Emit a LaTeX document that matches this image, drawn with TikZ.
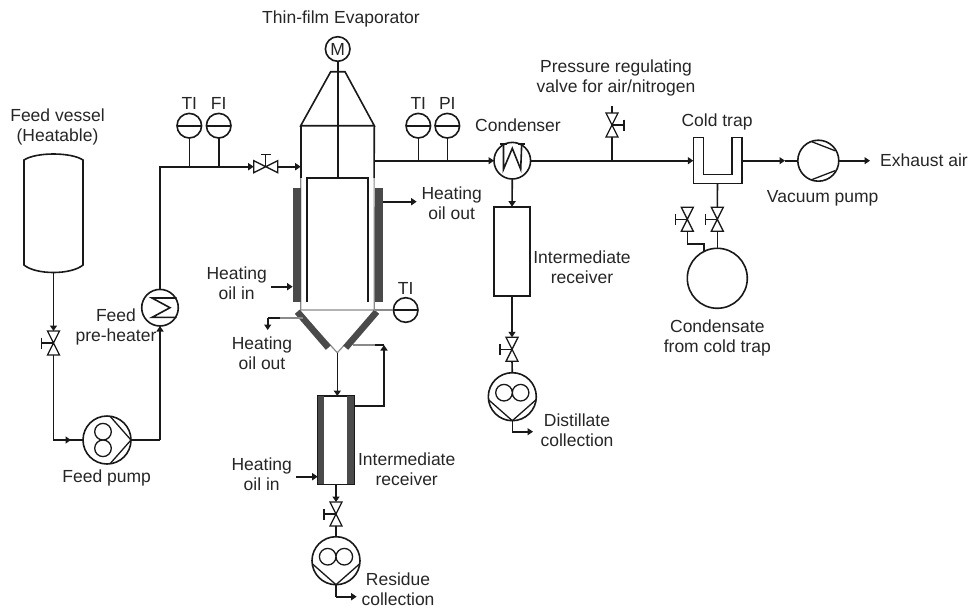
\documentclass[tikz,border=0pt]{standalone}
\usepackage{fontspec}
\setmainfont{Liberation Sans}
\usetikzlibrary{arrows.meta}
\definecolor{jacket}{HTML}{4A4A4A}
\definecolor{thinc}{HTML}{8A8A8A}
\tikzset{
  ln/.style={line width=1.6pt,line join=miter,black!90},
  tipped/.style={ln,-{Triangle[width=7pt,length=5.5pt]}},
  thinln/.style={line width=1.2pt,thinc},
  lbl/.style={align=center,inner sep=0pt,font=\fontsize{17.5}{20}\selectfont,text=black!85},
  rnd/.style={circle,draw,ln,inner sep=0pt,outer sep=0pt,fill=white},
  boxn/.style={rectangle,inner sep=0pt,outer sep=0pt},
  jack/.style={boxn,fill=jacket},
  vbody/.style={ln,fill=white,line width=1.3pt},
}
% vertical valve: name, position, handle direction (+1 right, -1 left)
\newcommand\VVal[3]{%
  \node[boxn,minimum width=12pt,minimum height=24pt] (#1) at (#2) {};
  \draw[vbody] (#1.north west) -- (#1.north east) -- (#1.south west) -- (#1.south east) -- cycle;
  \begin{scope}[shift={(#1.center)}]
    \draw[ln,line width=1.3pt] (0,0) -- (#3*12,0) (#3*12,-5.5) -- (#3*12,5.5);
  \end{scope}}
% horizontal valve with the handle above
\newcommand\HVal[2]{%
  \node[boxn,minimum width=24pt,minimum height=12pt] (#1) at (#2) {};
  \draw[vbody] (#1.north west) -- (#1.south west) -- (#1.north east) -- (#1.south east) -- cycle;
  \begin{scope}[shift={(#1.center)}]
    \draw[ln,line width=1.3pt] (0,0) -- (0,-12) (-5,-12) -- (5,-12);
  \end{scope}}
% instrument
\newcommand\Inst[3]{%
  \node[rnd,minimum size=24.6pt] (#1) at (#2) {};
  \draw[ln] (#1.west) -- (#1.east);
  \node[lbl] (#1t) at ([yshift=22pt]#1.center) {#3};}
% positive displacement pump: name, position, rotation
\newcommand\DPump[3]{%
  \node[rnd,minimum size=48pt] (#1) at (#2) {};
  \begin{scope}[shift={(#1.center)},rotate=#3]
    \draw[ln,line width=1.3pt] (-4,-8.3) circle[radius=8.3] (-4,8.3) circle[radius=8.3];
    \draw[ln,line width=1.3pt] (3,-23.8) -- (24,0) -- (3,23.8);
  \end{scope}}
\begin{document}
\begin{tikzpicture}[x=1pt,y=-1pt]
\useasboundingbox (0,0) rectangle (968,610);

% ---------- feed side
\node[boxn,minimum width=59pt,minimum height=105pt] (vessel) at (53.5,212.5) {};
\draw[ln] (vessel.north west) .. controls (36,152) and (71,152) .. (vessel.north east)
  -- (vessel.south east) .. controls (71,275) and (36,275) .. (vessel.south west) -- cycle;
\coordinate (vesselout) at (53.5,273);
\VVal{v1}{53.5,343}{-1}
\DPump{fpump}{107,440}{0}
\node[rnd,minimum size=36.6pt] (heater) at (160,307.7) {};
\draw[ln] ([shift={(16.7,-9.7)}]heater.center) -- ++(-24.7,0) -- ++(18,9.7) -- ++(-18,9.7) -- ++(24.7,0);
\coordinate (c1) at (53.5,440);
\coordinate (c2) at (160,440);
\coordinate (c3) at (160,166.7);
\draw[tipped] (vesselout) -- (v1.north);
\draw[ln] (v1.south) -- (c1) -- (fpump.west);
\draw[tipped] (c1) -- (71,440);
\draw[ln] (fpump.east) -- (c2);
\draw[tipped] (c2) -- (heater.south);
\Inst{ti1}{189.3,125.7}{TI}
\Inst{fi1}{218.7,125.7}{FI}
\HVal{v2}{265.7,166.7}
\coordinate (tee1) at (189.3,166.7);
\coordinate (tee2) at (218.7,166.7);
\draw[ln] (heater.north) -- (c3) -- (tee1) -- (tee2);
\draw[ln] (ti1.south) -- (tee1);
\draw[ln] (fi1.south) -- (tee2);
\draw[tipped] (tee2) -- (v2.west);

% ---------- evaporator
\node[boxn,minimum width=73.6pt,minimum height=184.3pt] (evap) at (337.5,217.85) {};
\node[rnd,minimum size=24.6pt] (motor) at (337.7,49) {};
\node[lbl] (motort) at (motor) {M};
\coordinate (conetl) at (330.7,71.7);
\coordinate (conetr) at (345,71.7);
\coordinate (rotl) at (306.7,178);
\coordinate (rotr) at (368,178);
\coordinate (rotm) at (337.7,178);
\coordinate (inlet) at (300.7,166.7);
\draw[ln] (evap.north west) -- (conetl) -- (conetr) -- (evap.north east) -- cycle;
\draw[ln] (evap.north west) -- (inlet |- rotl);
\draw[ln] (evap.north east) -- (374.1,178);
\draw[thinln] (300.7,178) -- (evap.south west) -- (evap.south east) -- (374.1,178);
\draw[ln] (motor.south) -- (rotm);
\draw[ln,line join=miter] (306.7,301.7) -- (rotl) -- (rotr) -- (368,301.7);
\draw[tipped] (v2.east) -- (inlet);
% jackets
\node[jack,minimum width=8.3pt,minimum height=114.6pt] (jl) at (296.8,245) {};
\node[jack,minimum width=8pt,minimum height=114.6pt] (jr) at (379,245) {};
% funnel
\coordinate (apex) at (337.3,352.7);
\draw[thinln] (300,312) -- (apex) -- (375,312);
\draw[line width=6.5pt,jacket] (297.3,311.7) -- (328.3,347.7);
\draw[line width=6.5pt,jacket] (376.7,311.7) -- (345.7,347.7);
\Inst{ti3}{405.7,310}{TI}
\draw[thinln] (evap.south east) -- (ti3.west);

% heating oil connections, evaporator
\coordinate (hoout1) at (416.7,201.7);
\draw[tipped] (jr.east |- hoout1) -- (hoout1);
\node[lbl] (t1) at (451.7,203.5) {Heating\\oil out};
\coordinate (hoin1) at (271,286.7);
\draw[tipped] (hoin1) -- (jl.west |- hoin1);
\node[lbl] (t2) at (236.7,283.5) {Heating\\oil in};
\coordinate (c4) at (267.7,318);
\coordinate (c5) at (267.7,330);
\coordinate (c6) at (303,318);
\draw[thinln] (c6) -- (280,318);
\draw[ln] (280,318) -- (c4);
\draw[tipped] (c4) -- (c5);
\node[lbl] (t3) at (262,353.5) {Heating\\oil out};

% ---------- lower receiver
\node[boxn,draw,ln,fill=white,minimum width=36.6pt,minimum height=88.3pt] (rec2) at (336,440.2) {};
\node[jack,minimum width=6.8pt,minimum height=88.3pt] at (321,440.2) {};
\node[jack,minimum width=7.3pt,minimum height=88.3pt] at (350.6,440.2) {};
\draw[tipped] (apex) -- (apex |- rec2.north);
\coordinate (c7) at (384,405.7);
\coordinate (c8) at (384,345);
\coordinate (c9) at (353,345);
\draw[thinln] (c9) -- (375,345);
\draw[ln] (375,345) -- (c8);
\draw[tipped] (rec2.east |- c7) -- (c7) -- (c8);
\coordinate (hoin2) at (296,476.7);
\draw[tipped] (hoin2) -- (rec2.west |- hoin2);
\node[lbl] (t4) at (261.7,474.5) {Heating\\oil in};
\VVal{v3}{336,514}{-1}
\draw[tipped] (rec2.south) -- (v3.north);
\DPump{rpump}{336,560.7}{-90}
\draw[ln] (v3.south) -- (rpump.north);
\coordinate (c10) at (336,596.7);
\coordinate (c11) at (356.7,596.7);
\draw[ln] (rpump.south) -- (c10);
\draw[tipped] (c10) -- (c11);

% ---------- overhead line
\Inst{ti2}{418.3,125.7}{TI}
\Inst{pi1}{447.3,125.7}{PI}
\node[rnd,minimum size=36.6pt] (cond) at (512.3,160.7) {};
\draw[ln] (503.5,144) -- (503.5,169.3) -- (512.3,148.3) -- (520.7,169.3) -- (521.7,144);
\draw[ln] (500,144) -- (507,144) (518,144) -- (525,144);
\coordinate (tee3) at (418.3,160.7);
\coordinate (tee4) at (447.3,160.7);
\draw[ln] (evap.east |- tee3) -- (tee3) -- (tee4);
\draw[ln] (ti2.south) -- (tee3);
\draw[ln] (pi1.south) -- (tee4);
\draw[tipped] (tee4) -- (cond.west);

% ---------- condensate receiver
\node[boxn,draw,ln,fill=white,minimum width=36pt,minimum height=89.3pt] (rec1) at (512,251.35) {};
\draw[tipped] (cond.south) -- (rec1.north);
\VVal{v4}{512,349.3}{-1}
\draw[tipped] (rec1.south) -- (v4.north);
\DPump{dpump}{512.3,396.7}{-90}
\draw[ln] (v4.south) -- (dpump.north);
\coordinate (c12) at (512.3,431.7);
\coordinate (c13) at (533,431.7);
\draw[ln] (dpump.south) -- (c12);
\draw[tipped] (c12) -- (c13);

% ---------- regulating valve
\VVal{v5}{612,125}{1}
\coordinate (tee5) at (612,160.7);
\coordinate (vtop) at (612,106);
\draw[ln] (vtop) -- (v5.north);
\draw[ln] (v5.south) -- (tee5);

% ---------- cold trap
\node[boxn,minimum width=48.4pt,minimum height=46pt] (trap) at (717.5,160.3) {};
\draw[ln] (trap.north west) -- (703.3,137.3) -- (703.3,174.3) -- (731.7,174.3) -- (731.7,137.3)
   -- (trap.north east) -- (trap.south east) -- (trap.south west) -- cycle;
\draw[ln] (cond.east) -- (tee5);
\draw[tipped] (tee5) -- (trap.west |- tee5);
\node[rnd,minimum size=41pt] (vac) at (818.3,160.7) {};
\draw[ln,line width=1.3pt] (811.7,141.7) -- (835,150.7) (811.7,179.7) -- (835,170.7);
\coordinate (tip1) at (785,160.7);
\draw[tipped] (trap.east |- tip1) -- (tip1);
\draw[ln] (tip1) -- (vac.west);
\coordinate (exh) at (870,160.7);
\draw[tipped] (vac.east) -- (exh);
\VVal{v6}{717.3,219.3}{-1}
\VVal{v7}{687.3,219.3}{-1}
\node[rnd,minimum size=60pt] (tank) at (717.3,278.3) {};
\draw[ln] (trap.south) -- (v6.north);
\draw[ln] (v6.south) -- (tank.north);
\coordinate (c14) at (687.3,244);
\coordinate (c15) at (704,244);
\coordinate (c16) at (704,251.5);
\draw[ln] (v7.south) -- (c14) -- (c15) -- (c16);

% ---------- labels
\node[lbl] (l1) at (57.5,127) {Feed vessel\\(Heatable)};
\node[lbl] (l2) at (116,326.5) {Feed\\pre-heater};
\node[lbl] (l3) at (106.7,478) {Feed pump};
\node[lbl] (l4) at (341,19) {Thin-film Evaporator};
\node[lbl] (l5) at (406.7,469.5) {Intermediate\\receiver};
\node[lbl] (l6) at (398,589.5) {Residue\\collection};
\node[lbl] (l7) at (518,125) {Condenser};
\node[lbl] (l8) at (582,267.5) {Intermediate\\receiver};
\node[lbl] (l9) at (577,430) {Distillate\\collection};
\node[lbl] (l10) at (616,77.5) {Pressure regulating\\valve for air/nitrogen};
\node[lbl] (l11) at (717,122) {Cold trap};
\node[lbl,anchor=west] (l12) at (880,160.7) {Exhaust air};
\node[lbl] (l13) at (822.7,198) {Vacuum pump};
\node[lbl] (l14) at (717.3,338) {Condensate\\from cold trap};
\end{tikzpicture}
\end{document}
